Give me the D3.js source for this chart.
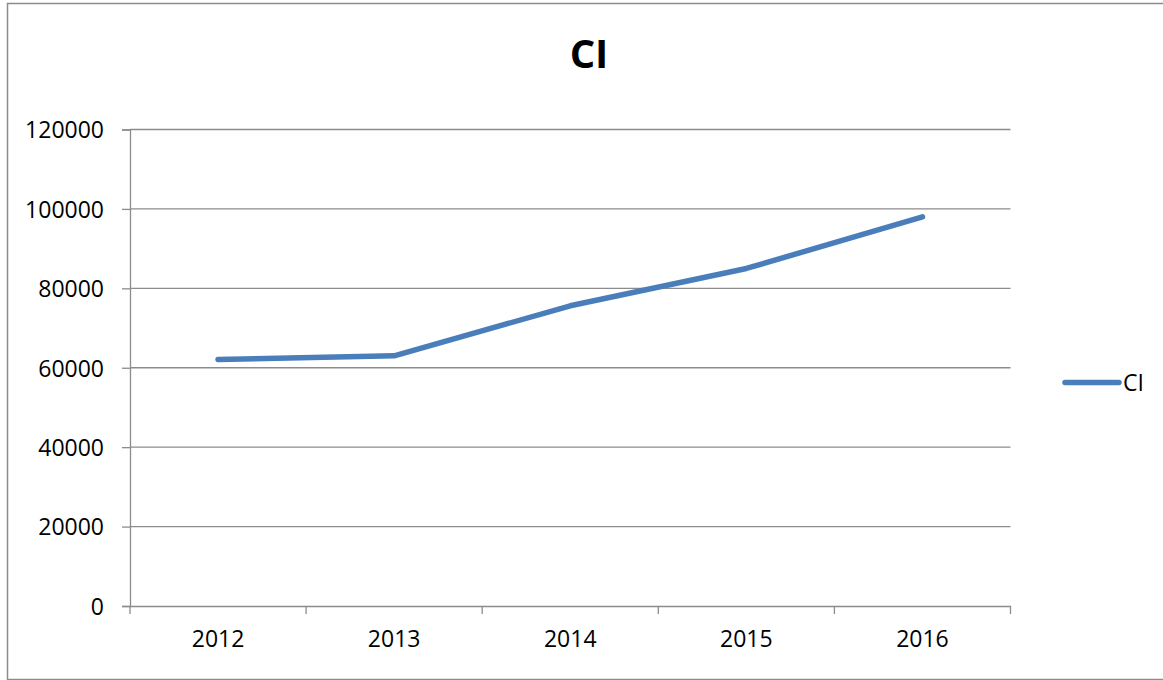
<!DOCTYPE html>
<html>
<head>
<meta charset="utf-8">
<script src="https://cdn.jsdelivr.net/npm/d3@7"></script>
<style>
    body { margin: 0; background: #fff; }
    svg text { font-family: "Open Sans", "Liberation Sans", sans-serif; fill: #000; }
</style>
</head>
<body>
<div id="chart"></div>
<script>
var years = ['2012', '2013', '2014', '2015', '2016'];
var ciValues = [62100, 63000, 75600, 85000, 98000];
var yTicks = [0, 20000, 40000, 60000, 80000, 100000, 120000];
var seriesName = 'CI';

var width = 1163,
    height = 680,
    margin = { left: 130, top: 129.5, right: 152.5, bottom: 74 };

var svg = d3.select('#chart')
    .append('svg')
    .attr('width', width)
    .attr('height', height);

// outer chart border (right side runs off the picture)
svg.append('rect')
    .attr('x', 7.5)
    .attr('y', 3.5)
    .attr('width', width + 10)
    .attr('height', 676)
    .attr('fill', 'none')
    .attr('stroke', '#8c8c8c')
    .attr('stroke-width', 1.5);

svg.append('text')
    .attr('x', 589)
    .attr('y', 68)
    .attr('text-anchor', 'middle')
    .style('font-size', '40px')
    .style('font-weight', 'bold')
    .text('CI');

var x = d3.scaleBand()
    .domain(years)
    .range([margin.left, width - margin.right]);

var y = d3.scaleLinear()
    .domain([0, 120000])
    .range([height - margin.bottom, margin.top]);

var g = svg.append('g');

// gridlines
g.selectAll('line.grid')
    .data(yTicks.slice(1))
    .enter()
    .append('line')
    .attr('class', 'grid')
    .attr('x1', margin.left)
    .attr('x2', width - margin.right)
    .attr('y1', function(d) { return y(d); })
    .attr('y2', function(d) { return y(d); })
    .attr('stroke', '#8c8c8c')
    .attr('stroke-width', 1.3);

var yAxis = g.append('g')
    .attr('transform', 'translate(' + margin.left + ',0)')
    .call(d3.axisLeft(y).tickValues(yTicks).tickSize(8).tickPadding(18).tickFormat(d3.format('d')));

var xAxis = g.append('g')
    .attr('transform', 'translate(0,' + (height - margin.bottom) + ')')
    .call(d3.axisBottom(x).tickSize(0).tickPadding(25));

// category boundary ticks
var bounds = years.map(function(d) { return x(d); }).concat([x.range()[1]]);
xAxis.selectAll('line.bound')
    .data(bounds)
    .enter()
    .append('line')
    .attr('class', 'bound')
    .attr('x1', function(d) { return d; })
    .attr('x2', function(d) { return d; })
    .attr('y1', 0)
    .attr('y2', 8)
    .attr('stroke', '#8c8c8c')
    .attr('stroke-width', 1.3);

[yAxis, xAxis].forEach(function(a) {
    a.select('.domain').attr('stroke', '#8c8c8c').attr('stroke-width', 1.3);
    a.selectAll('.tick line').attr('stroke', '#8c8c8c').attr('stroke-width', 1.3);
    a.selectAll('.tick text').style('font-size', '23px').attr('fill', '#000');
});
yAxis.selectAll('.tick text').attr('dy', '0.36em');

var line = d3.line()
    .x(function(d, i) { return x(years[i]) + x.bandwidth() / 2; })
    .y(function(d) { return y(d); });

g.append('path')
    .datum(ciValues)
    .attr('d', line)
    .attr('fill', 'none')
    .attr('stroke', '#4a7ebb')
    .attr('stroke-width', 5.5)
    .attr('stroke-linecap', 'round')
    .attr('stroke-linejoin', 'round');

// legend
var legend = svg.append('g').attr('transform', 'translate(1065,382.5)');
legend.append('line')
    .attr('x1', 0)
    .attr('x2', 54)
    .attr('stroke', '#4a7ebb')
    .attr('stroke-width', 5.5)
    .attr('stroke-linecap', 'round');
legend.append('text')
    .attr('x', 58)
    .attr('dy', '0.36em')
    .style('font-size', '23px')
    .text(seriesName);
</script>
</body>
</html>
